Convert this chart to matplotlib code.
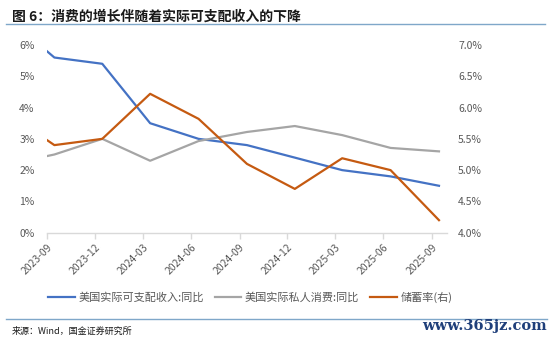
import matplotlib
matplotlib.use("Agg")
import matplotlib.pyplot as plt
import matplotlib.dates as mdates
import pandas as pd
from matplotlib.lines import Line2D

plt.rcParams['font.family'] = ['Noto Sans CJK SC', 'DejaVu Sans']

dates = pd.to_datetime(['2023-09-01', '2023-09-15', '2023-12-15', '2024-03-15', '2024-06-15',
                        '2024-09-15', '2024-12-15', '2025-03-15', '2025-06-15', '2025-09-15'])
income = [5.8, 5.6, 5.4, 3.5, 3.0, 2.8, 2.4, 2.0, 1.8, 1.5]
consumption = [2.45, 2.5, 3.0, 2.3, 2.93, 3.22, 3.41, 3.12, 2.71, 2.6]
saving = [5.48, 5.4, 5.5, 6.22, 5.82, 5.1, 4.7, 5.19, 5.0, 4.2]
tick_dates = pd.to_datetime(['2023-09-01', '2023-12-01', '2024-03-01', '2024-06-01', '2024-09-01',
                             '2024-12-01', '2025-03-01', '2025-06-01', '2025-09-01'])
tick_labels = ['2023-09', '2023-12', '2024-03', '2024-06', '2024-09',
               '2024-12', '2025-03', '2025-06', '2025-09']
left_ticks = [0, 1, 2, 3, 4, 5, 6]
right_ticks = [4.0, 4.5, 5.0, 5.5, 6.0, 6.5, 7.0]
names = ['美国实际可支配收入:同比', '美国实际私人消费:同比', '储蓄率(右)']
colors = ['#4472C4', '#A5A5A5', '#C55A11']

fig = plt.figure(figsize=(5.5, 3.4), dpi=100)
ax = fig.add_axes([0.0855, 0.3156, 0.727, 0.552])
ax2 = ax.twinx()

ax.plot(dates, income, color=colors[0], lw=1.6)
ax.plot(dates, consumption, color=colors[1], lw=1.6)
ax2.plot(dates, saving, color=colors[2], lw=1.6)

ax.set_xlim(pd.Timestamp('2023-09-01'), pd.Timestamp('2025-09-30'))
ax.set_ylim(0, 6)
ax2.set_ylim(4, 7)
ax.set_yticks(left_ticks)
ax.set_yticklabels([f'{v}%' for v in left_ticks])
ax2.set_yticks(right_ticks)
ax2.set_yticklabels([f'{v:.1f}%' for v in right_ticks])
ax.set_xticks(tick_dates)
ax.set_xticklabels(tick_labels, rotation=45, ha='right', rotation_mode='anchor')

for a in (ax, ax2):
    for s in ['top', 'left', 'right', 'bottom']:
        a.spines[s].set_visible(False)
ax.spines['bottom'].set_visible(True)
ax.spines['bottom'].set_color('#D9D9D9')
ax.spines['bottom'].set_linewidth(1.0)
ax.tick_params(axis='x', colors='#D9D9D9', length=4, width=1, labelcolor='#595959', labelsize=7.5, pad=3)
ax.tick_params(axis='y', length=0, labelcolor='#595959', labelsize=7.5, pad=9)
ax2.tick_params(axis='y', length=0, labelcolor='#595959', labelsize=7.5, pad=8)

handles = [Line2D([0], [0], color=c, lw=1.6) for c in colors]
fig.legend(handles, names, loc='center', bbox_to_anchor=(0.455, 0.126), ncol=3, frameon=False,
           fontsize=8, handlelength=2.4, handletextpad=0.3, columnspacing=1.0, labelcolor='#595959')

fig.text(0.022, 0.952, '图 6：消费的增长伴随着实际可支配收入的下降', fontsize=10, fontweight='bold',
         style='italic', color='#1a1a1a', va='center', ha='left')
fig.add_artist(Line2D([0.01, 0.99], [0.93, 0.93], color='#7FA7C9', lw=1.0, transform=fig.transFigure))
fig.add_artist(Line2D([0.01, 0.995], [0.062, 0.062], color='#7FA7C9', lw=1.0, transform=fig.transFigure))
fig.text(0.022, 0.027, '来源：Wind，国金证券研究所', fontsize=6.5, color='#1a1a1a', va='center', ha='left')
fig.text(0.994, 0.041, 'www.365jz.com', fontsize=10.5, fontweight='bold', family='DejaVu Serif',
         color='#1F3F7A', va='center', ha='right')

fig.savefig('out.png', dpi=100)
